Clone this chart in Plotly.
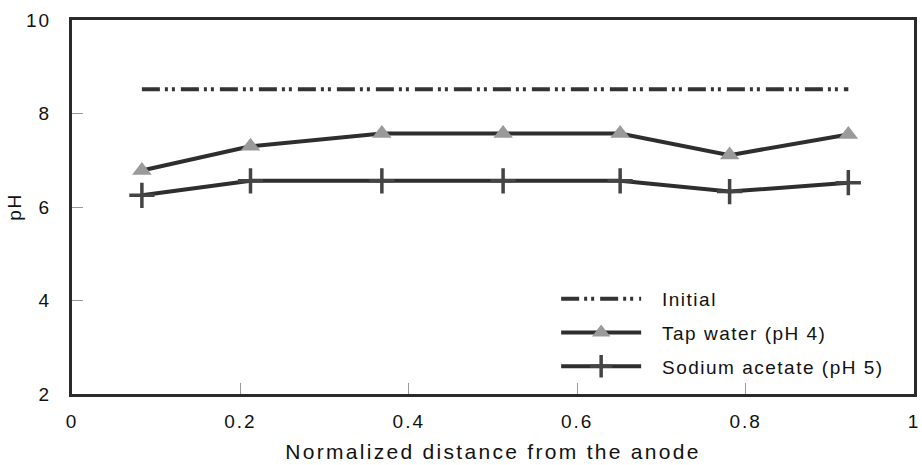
import plotly.graph_objects as go

distance = [0.083, 0.212, 0.368, 0.512, 0.651, 0.781, 0.922]
initial_ph = [8.52, 8.52, 8.52, 8.52, 8.52, 8.52, 8.52]
tap_water_ph = [6.78, 7.30, 7.57, 7.57, 7.57, 7.11, 7.55]
sodium_acetate_ph = [6.25, 6.56, 6.56, 6.56, 6.56, 6.33, 6.52]

x_ticks = [0, 0.2, 0.4, 0.6, 0.8, 1]
x_tick_labels = ["0", "0.2", "0.4", "0.6", "0.8", "1"]
y_ticks = [2, 4, 6, 8, 10]
y_tick_labels = ["2", "4", "6", "8", "10"]
series_names = ["Initial", "Tap water (pH 4)", "Sodium acetate (pH 5)"]
x_title = "Normalized distance from the anode"
y_title = "pH"

FONT = "Liberation Sans, Arial, sans-serif"


def spaced(text, px, lead=0):
    return "&nbsp;" * lead + f'<span style="letter-spacing:{px}px">{text}</span>'


fig = go.Figure()

fig.add_trace(go.Scatter(
    x=distance, y=initial_ph, mode="lines", name=spaced(series_names[0], 1.5, 3), legendgroup="a",
    line=dict(color="#333333", width=4, dash="18px,5px,3px,4px,3px,6px"),
))
fig.add_trace(go.Scatter(
    x=distance, y=tap_water_ph, mode="lines+markers", name=spaced(series_names[1], 1.5, 3), legendgroup="b",
    line=dict(color="#2e2e2e", width=4),
    marker=dict(symbol="triangle-up", size=17, color="#9a9a9a", line=dict(width=0)),
))
fig.add_trace(go.Scatter(
    x=distance, y=sodium_acetate_ph, mode="lines+markers", name=spaced(series_names[2], 1.5, 3), legendgroup="c",
    line=dict(color="#2e2e2e", width=4),
    marker=dict(symbol="cross-thin", size=18, color="#444444", line=dict(width=3.5, color="#444444")),
))

axis_common = dict(
    showline=True, linewidth=3, linecolor="#2a2a2a", mirror=True,
    ticks="inside", ticklen=11, tickwidth=1, tickcolor="#999999",
    showgrid=False, zeroline=False, automargin=False,
    tickfont=dict(family=FONT, size=19, color="#111111"),
)

fig.update_xaxes(
    range=[0, 1], tickvals=x_ticks, ticktext=[spaced(t, 2) for t in x_tick_labels],
    title=dict(text=spaced(x_title, 2.3), font=dict(family=FONT, size=21, color="#111111"), standoff=14),
    ticklabelstandoff=8, ticklabeloverflow="allow",
    **axis_common,
)
fig.update_yaxes(
    range=[2, 10], tickvals=y_ticks, ticktext=[spaced(t, 2) for t in y_tick_labels],
    title=dict(text=spaced(y_title, 1.5), font=dict(family=FONT, size=19, color="#111111"), standoff=0),
    ticklabelstandoff=14,
    **axis_common,
)

fig.update_layout(
    width=922, height=465,
    margin=dict(l=72, r=8, t=20, b=71),
    paper_bgcolor="white", plot_bgcolor="white",
    font=dict(family=FONT, size=19, color="#111111"),
    legend=dict(
        x=0.575, y=0.305, xanchor="left", yanchor="top",
        bgcolor="rgba(0,0,0,0)", borderwidth=0,
        font=dict(family=FONT, size=19, color="#111111"),
        itemwidth=80, tracegroupgap=6,
    ),
)

fig.write_html("out.html")
